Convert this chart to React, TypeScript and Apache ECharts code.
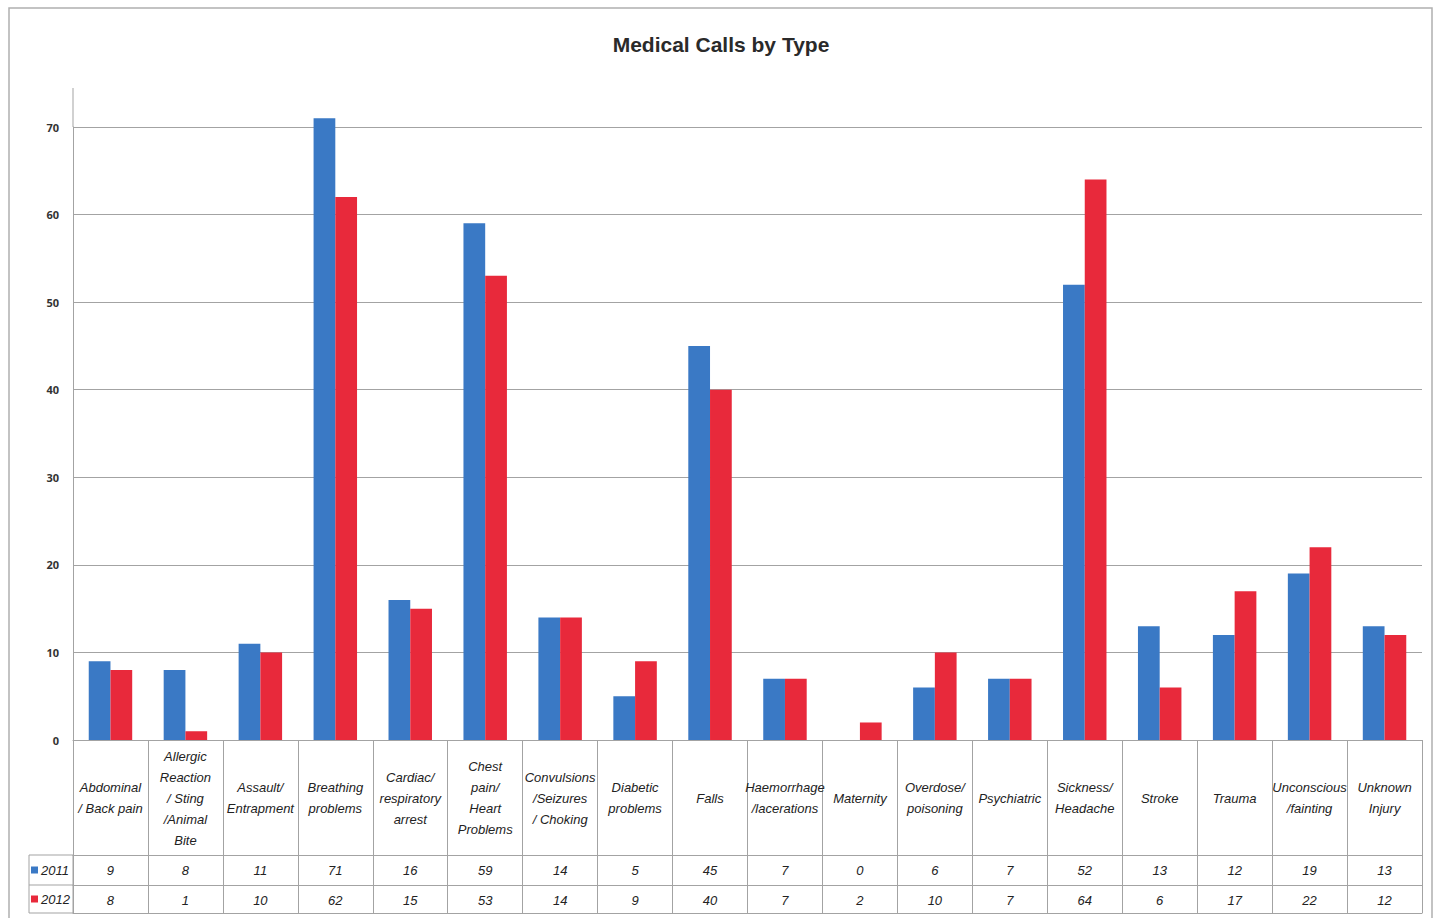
import React, { useEffect, useRef } from "react";
import * as echarts from "echarts";

const title = "Medical Calls by Type";
const categories = [
  "Abdominal\n/ Back pain",
  "Allergic\nReaction\n/ Sting\n/Animal\nBite",
  "Assault/\nEntrapment",
  "Breathing\nproblems",
  "Cardiac/\nrespiratory\narrest",
  "Chest\npain/\nHeart\nProblems",
  "Convulsions\n/Seizures\n/ Choking",
  "Diabetic\nproblems",
  "Falls",
  "Haemorrhage\n/lacerations",
  "Maternity",
  "Overdose/\npoisoning",
  "Psychiatric",
  "Sickness/\nHeadache",
  "Stroke",
  "Trauma",
  "Unconscious\n/fainting",
  "Unknown\nInjury",
];
const years = ["2011", "2012"];
const values2011 = [9, 8, 11, 71, 16, 59, 14, 5, 45, 7, 0, 6, 7, 52, 13, 12, 19, 13];
const values2012 = [8, 1, 10, 62, 15, 53, 14, 9, 40, 7, 2, 10, 7, 64, 6, 17, 22, 12];
const yMin = 0;
const yMax = 70;
const yStep = 10;

const colors = ["#3a79c5", "#e8293b"];
const gridColor = "#a3a3a3";
const tableFont = "'Liberation Sans Narrow', 'Liberation Sans', Arial, sans-serif";

export default function App() {
  const ref = useRef<HTMLDivElement>(null);
  useEffect(() => {
    if (!ref.current) return;
    const chart = echarts.init(ref.current, null, { renderer: "svg" });
    const tableText = {
      fontFamily: tableFont,
      fontStyle: "italic",
      fontSize: 13,
      color: "#222",
    };
    const valueAxis = (offset: number, vals: number[] | null) => ({
      type: "category",
      data: categories,
      position: "bottom",
      offset,
      gridIndex: 0,
      axisLine: { show: true, lineStyle: { color: gridColor, width: 1 } },
      axisTick: { show: false },
      axisLabel: vals
        ? {
            show: true,
            interval: 0,
            margin: 15,
            verticalAlign: "middle",
            formatter: (_v: string, i: number) => String(vals[i]),
            ...tableText,
          }
        : { show: false },
      splitLine: { show: false },
    });
    chart.setOption({
      animation: false,
      backgroundColor: "#ffffff",
      title: {
        text: title,
        left: 716,
        top: 29,
        textAlign: "center",
        textStyle: {
          fontFamily: tableFont,
          fontWeight: "bold",
          fontSize: 21,
          color: "#2a2a2a",
        },
      },
      legend: {
        orient: "vertical",
        left: 31,
        top: 863,
        padding: 0,
        itemGap: 15,
        itemWidth: 7,
        itemHeight: 7,
        icon: "rect",
        data: years,
        textStyle: { ...tableText, lineHeight: 14, padding: [0, 0, 0, -2] },
      },
      grid: { left: 73, right: 17, top: 127, height: 613, containLabel: false },
      xAxis: [
        {
          type: "category",
          data: categories,
          position: "bottom",
          axisLine: { show: true, lineStyle: { color: gridColor, width: 1 } },
          axisTick: {
            show: true,
            interval: 0,
            alignWithLabel: false,
            length: 173,
            lineStyle: { color: gridColor, width: 1 },
          },
          axisLabel: {
            show: true,
            interval: 0,
            margin: 58,
            verticalAlign: "middle",
            align: "center",
            lineHeight: 21,
            ...tableText,
          },
          splitLine: { show: false },
        },
        valueAxis(115, values2011),
        valueAxis(145, values2012),
        valueAxis(173, null),
      ],
      yAxis: {
        type: "value",
        min: yMin,
        max: yMax,
        interval: yStep,
        axisLine: { show: true, lineStyle: { color: gridColor, width: 1 } },
        axisTick: { show: false },
        splitLine: { show: true, lineStyle: { color: gridColor, width: 1 } },
        axisLabel: {
          margin: 14,
          fontFamily: "'Open Sans', sans-serif",
          fontWeight: "bold",
          fontSize: 11,
          color: "#333",
        },
      },
      series: [
        {
          name: years[0],
          type: "bar",
          data: values2011,
          clip: false,
          itemStyle: { color: colors[0] },
          barGap: "0%",
          barCategoryGap: "42%",
        },
        {
          name: years[1],
          type: "bar",
          data: values2012,
          clip: false,
          itemStyle: { color: colors[1] },
          barGap: "0%",
          barCategoryGap: "42%",
        },
      ],
      graphic: [
        {
          type: "rect",
          shape: { x: 9, y: 8, width: 1423, height: 920 },
          style: { fill: "none", stroke: "#b0b0b0", lineWidth: 1.5 },
          silent: true,
        },
        {
          type: "line",
          shape: { x1: 73, y1: 88, x2: 73, y2: 127 },
          style: { stroke: gridColor, lineWidth: 1 },
          silent: true,
        },
        {
          type: "rect",
          shape: { x: 29, y: 855, width: 44, height: 58 },
          style: { fill: "none", stroke: gridColor, lineWidth: 1 },
          silent: true,
        },
        {
          type: "line",
          shape: { x1: 29, y1: 885, x2: 73, y2: 885 },
          style: { stroke: gridColor, lineWidth: 1 },
          silent: true,
        },
      ],
    });
    return () => chart.dispose();
  }, []);
  return (
    <div
      ref={ref}
      style={{ position: "fixed", left: 0, top: 0, width: 1439, height: 918 }}
    />
  );
}
